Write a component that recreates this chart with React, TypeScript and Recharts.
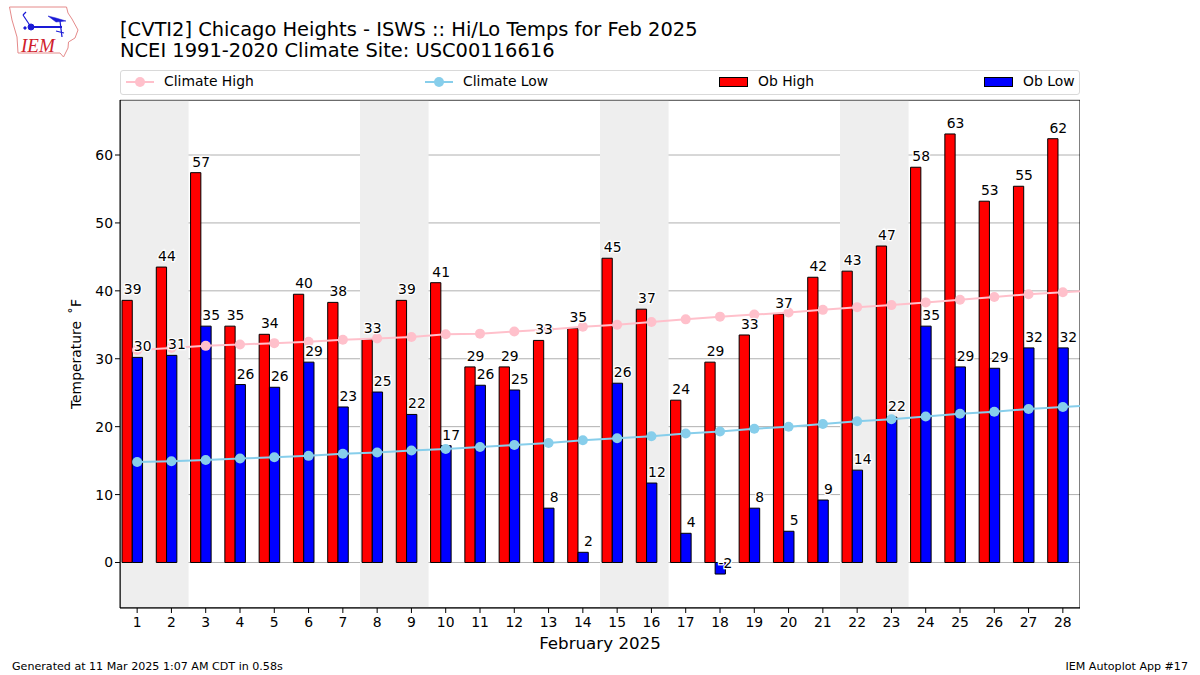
import React from "react";
import {
  ComposedChart, Bar, Line, XAxis, YAxis, CartesianGrid, ReferenceArea, LabelList, Label,
} from "recharts";

const FONT = "'DejaVu Sans', sans-serif";

const days = [1,2,3,4,5,6,7,8,9,10,11,12,13,14,15,16,17,18,19,20,21,22,23,24,25,26,27,28];
const obHigh = [38.6,43.5,57.4,34.8,33.6,39.5,38.3,32.9,38.6,41.2,28.8,28.8,32.7,34.5,44.8,37.3,23.9,29.5,33.5,36.6,42,42.9,46.6,58.2,63.1,53.2,55.4,62.4];
const obLow = [30.2,30.5,34.8,26.2,25.8,29.5,22.9,25.1,21.8,17.2,26.1,25.4,8,1.5,26.4,11.7,4.3,-1.7,8,4.6,9.2,13.6,21.4,34.8,28.8,28.6,31.6,31.6];
const highLabels = [39,44,57,35,34,40,38,33,39,41,29,29,33,35,45,37,24,29,33,37,42,43,47,58,63,53,55,62];
const lowLabels = [30,31,35,26,26,29,23,25,22,17,26,25,8,2,26,12,4,-2,8,5,9,14,22,35,29,29,32,32];
// The climate lines run on to 1 March, past the right edge of the plot.
const climateDays = [...days, 29];
const climateHigh = [31.3,31.6,31.9,32.1,32.3,32.5,32.8,33.0,33.2,33.6,33.7,34.0,34.3,34.7,35.0,35.4,35.8,36.2,36.5,36.8,37.2,37.6,37.9,38.3,38.7,39.1,39.5,39.8,40.1];
const climateLow = [14.8,14.9,15.1,15.3,15.5,15.7,16.0,16.2,16.5,16.7,17.0,17.3,17.6,18.0,18.3,18.6,19.0,19.3,19.7,20.0,20.4,20.8,21.1,21.5,21.9,22.2,22.6,22.9,23.2];
const weekends = [[0.5,2.5],[7.5,9.5],[14.5,16.5],[21.5,23.5]];
const yTicks = [0,10,20,30,40,50,60];

const rows = climateDays.map((day, i) => ({
  day,
  obHigh: obHigh[i],
  obLow: obLow[i],
  highLabel: highLabels[i],
  lowLabel: lowLabels[i],
  climateHigh: climateHigh[i],
  climateLow: climateLow[i],
}));

const PINK = "#ffc0cb";
const SKY = "#87ceeb";

const valueLabel = (shift: number) => (p: any) => {
  if (p.value === undefined || p.value === null) return null;
  return (
    <text
      x={p.x + shift}
      y={p.y - 6}
      textAnchor="middle"
      fontFamily={FONT}
      fontSize={13.9}
      fill="#000"
      stroke="#fff"
      strokeWidth={2.5}
      paintOrder="stroke"
    >
      {p.value}
    </text>
  );
};

const Logo = () => (
  <svg width={82} height={60} style={{ position: "absolute", left: 0, top: 0 }}>
    <path
      d="M9.5 7 L66.5 7 L68 13 L72 19 L78 30 L75 38 L68.5 42 L68 48 L63.5 57 L60 53 L18 53 L17 37 L12 20 Z"
      fill="#fff"
      stroke="#e58a8a"
      strokeWidth={1}
    />
    <g stroke="#1a1ad6" fill="#1a1ad6">
      <line x1={31} y1={27} x2={62} y2={27} strokeWidth={2} />
      <circle cx={31} cy={27} r={3} />
      <line x1={31} y1={27} x2={23} y2={15} strokeWidth={1.2} />
      <line x1={23} y1={15} x2={26} y2={12} strokeWidth={1.2} />
      <path d="M48 16 L56 18 L66 21 L56 22 Z" strokeWidth={0.5} />
      <line x1={60} y1={21} x2={62} y2={37} strokeWidth={1.2} />
      <line x1={56} y1={31} x2={64} y2={33} strokeWidth={1.2} />
      <circle cx={25} cy={28} r={1.2} />
    </g>
    <text x={21} y={52} fontFamily="'Liberation Serif', serif" fontStyle="italic" fontSize={19} fill="#d0202a">
      IEM
    </text>
  </svg>
);

const textBase: React.CSSProperties = {
  position: "absolute",
  fontFamily: FONT,
  color: "#000",
  whiteSpace: "nowrap",
  lineHeight: 1,
};

const LineKey = ({ color, left }: { color: string; left: number }) => (
  <svg width={28} height={12} style={{ position: "absolute", left, top: 5 }}>
    <line x1={0} y1={6} x2={28} y2={6} stroke={color} strokeWidth={2} />
    <circle cx={14} cy={6} r={5} fill={color} />
  </svg>
);

const PatchKey = ({ color, left }: { color: string; left: number }) => (
  <div style={{ position: "absolute", left, top: 6, width: 29, height: 10, background: color, border: "1px solid #000", boxSizing: "border-box" }} />
);

const LegendBox = () => (
  <div
    style={{
      position: "absolute", left: 120, top: 70, width: 960, height: 25,
      border: "1px solid #d9d9d9", borderRadius: 3, boxSizing: "border-box", background: "#fff",
    }}
  >
    <LineKey color={PINK} left={5} />
    <div style={{ ...textBase, left: 43, top: 4, fontSize: 13.9 }}>Climate High</div>
    <LineKey color={SKY} left={304} />
    <div style={{ ...textBase, left: 342, top: 4, fontSize: 13.9 }}>Climate Low</div>
    <PatchKey color="#ff0000" left={598} />
    <div style={{ ...textBase, left: 637, top: 4, fontSize: 13.9 }}>Ob High</div>
    <PatchKey color="#0000ff" left={863} />
    <div style={{ ...textBase, left: 902, top: 4, fontSize: 13.9 }}>Ob Low</div>
  </div>
);

export default function App() {
  return (
    <div style={{ position: "absolute", left: 0, top: 0, width: 1200, height: 675, background: "#fff", overflow: "hidden" }}>
      <Logo />
      <div style={{ ...textBase, left: 120, top: 20, fontSize: 19.46 }}>[CVTI2] Chicago Heights - ISWS :: Hi/Lo Temps for Feb 2025</div>
      <div style={{ ...textBase, left: 120, top: 41, fontSize: 19.46 }}>NCEI 1991-2020 Climate Site: USC00116616</div>
      <LegendBox />
      <div style={{ ...textBase, left: 12, top: 661, fontSize: 11.1 }}>Generated at 11 Mar 2025 1:07 AM CDT in 0.58s</div>
      <div style={{ ...textBase, right: 12, top: 661, fontSize: 11.1 }}>IEM Autoplot App #17</div>
      <ComposedChart
        width={1200}
        height={675}
        data={rows}
        margin={{ top: 100, right: 120, bottom: 37, left: 70 }}
        barGap={0}
        barSize={10.28}
        style={{ position: "absolute", left: 0, top: 0 }}
      >
        {weekends.map(([a, b]) => (
          <ReferenceArea key={a} x1={a} x2={b} y1={-6.7} y2={68.1} fill="#eeeeee" fillOpacity={1} stroke="none" ifOverflow="hidden" />
        ))}
        <CartesianGrid horizontal vertical={false} stroke="#b0b0b0" strokeWidth={1} />
        <XAxis
          dataKey="day"
          type="number"
          domain={[0.5, 28.5]}
          allowDataOverflow
          ticks={days}
          interval={0}
          height={30}
          tickSize={5}
          tickMargin={4}
          tickLine={{ stroke: "#000" }}
          axisLine={{ stroke: "#000" }}
          tick={{ fontFamily: FONT, fontSize: 13.9, fill: "#000" }}
        >
          <Label value="February 2025" position="insideBottom" offset={-11} style={{ fontFamily: FONT, fontSize: 16.7, fill: "#000" }} />
        </XAxis>
        <YAxis
          type="number"
          domain={[-6.7, 68.1]}
          allowDataOverflow
          ticks={yTicks}
          width={50}
          tickSize={5}
          tickLine={{ stroke: "#000" }}
          axisLine={{ stroke: "#000" }}
          tick={{ fontFamily: FONT, fontSize: 13.9, fill: "#000" }}
        >
          <Label value={"Temperature\u2009 ˚F"} angle={-90} position="insideLeft" offset={6} style={{ fontFamily: FONT, fontSize: 13.9, fill: "#000", textAnchor: "middle" }} />
        </YAxis>
        <Bar dataKey="obHigh" fill="#ff0000" stroke="#000" strokeWidth={1} isAnimationActive={false} />
        <Bar dataKey="obLow" fill="#0000ff" stroke="#000" strokeWidth={1} isAnimationActive={false} />
        <Bar dataKey="spacer" fill="none" stroke="none" isAnimationActive={false} />
        <Line dataKey="climateHigh" stroke={PINK} strokeWidth={2} dot={{ r: 5, fill: PINK, stroke: PINK, strokeWidth: 0 }} activeDot={false} isAnimationActive={false} />
        <Line dataKey="climateLow" stroke={SKY} strokeWidth={2} dot={{ r: 5, fill: SKY, stroke: SKY, strokeWidth: 0 }} activeDot={false} isAnimationActive={false} />
        <Line dataKey="obHigh" stroke="none" dot={false} activeDot={false} legendType="none" isAnimationActive={false}>
          <LabelList dataKey="highLabel" content={valueLabel(-4.5)} />
        </Line>
        <Line dataKey="obLow" stroke="none" dot={false} activeDot={false} legendType="none" isAnimationActive={false}>
          <LabelList dataKey="lowLabel" content={valueLabel(5.5)} />
        </Line>
        <ReferenceArea x1={0.5} x2={28.5} y1={-6.7} y2={68.1} fill="none" stroke="#000" strokeWidth={1} ifOverflow="hidden" />
      </ComposedChart>
    </div>
  );
}
